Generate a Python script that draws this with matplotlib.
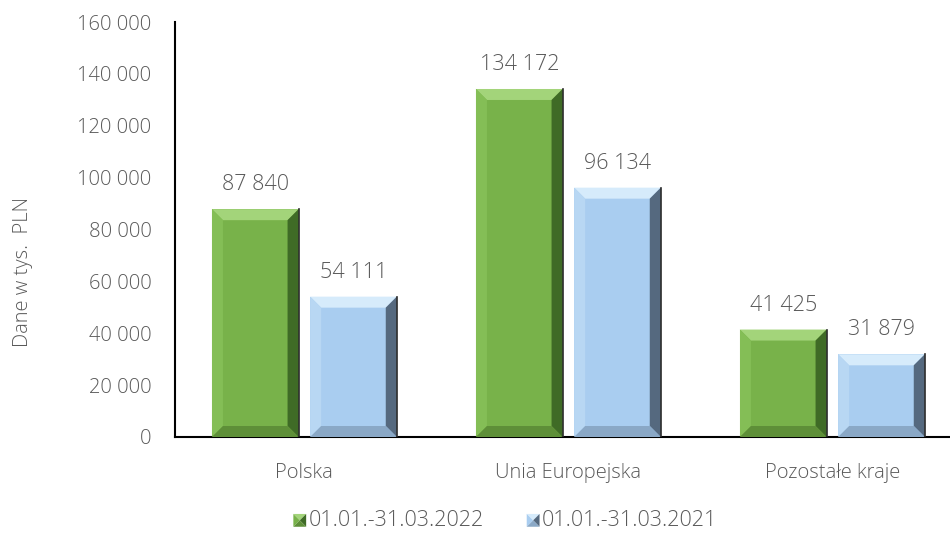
import numpy as np
import matplotlib.pyplot as plt
from matplotlib.patches import Polygon, Rectangle
from matplotlib.legend_handler import HandlerBase

categories = ["Polska", "Unia Europejska", "Pozostałe kraje"]
series_names = ["01.01.-31.03.2022", "01.01.-31.03.2021"]
values_2022 = [87840, 134172, 41425]
values_2021 = [54111, 96134, 31879]

plt.rcParams["font.family"] = ["Open Sans", "DejaVu Sans"]
plt.rcParams["font.weight"] = "light"
TXT = "#595959"

# face, top bevel, left bevel, right bevel, bottom bevel
palettes = [
    ["#78B24A", "#A3D47A", "#84BE56", "#3F6B26", "#5E8F38"],
    ["#A9CDF0", "#D6EBFB", "#B8D7F3", "#55697F", "#8AA8C6"],
]

W, H = 950, 534
fig = plt.figure(figsize=(W / 100, H / 100), dpi=100)
ax_l, ax_b, ax_w, ax_h = 175, 97, 792, 415
ax = fig.add_axes([ax_l / W, ax_b / H, ax_w / W, ax_h / H])
ax.set_xlim(-0.49, 2.51)
ax.set_ylim(0, 160000)

sx = ax_w / 3.0
sy = ax_h / 160000.0
bx, by = 11 / sx, 11 / sy

x = np.arange(len(categories))
width = 0.328
offset = 0.186


def bevel_bar(xc, h, cols):
    x0, x1, y0, y1 = xc - width / 2, xc + width / 2, 0, h
    ax.add_patch(Rectangle((x0, y0), x1 - x0, y1 - y0, color=cols[0], lw=0, zorder=2))
    polys = [
        ([(x0, y1), (x1, y1), (x1 - bx, y1 - by), (x0 + bx, y1 - by)], cols[1]),
        ([(x0, y0), (x0, y1), (x0 + bx, y1 - by), (x0 + bx, y0 + by)], cols[2]),
        ([(x1, y0), (x1, y1), (x1 - bx, y1 - by), (x1 - bx, y0 + by)], cols[3]),
        ([(x0, y0), (x1, y0), (x1 - bx, y0 + by), (x0 + bx, y0 + by)], cols[4]),
    ]
    for pts, c in polys:
        ax.add_patch(Polygon(pts, closed=True, color=c, lw=0, zorder=3))
    ax.plot([x1, x1], [y0, y1], color="#2a2a2a", lw=1.2, zorder=4)


for i, vals in enumerate([values_2022, values_2021]):
    xs = x + (-offset if i == 0 else offset)
    for xc, v in zip(xs, vals):
        bevel_bar(xc, v, palettes[i])
        ax.annotate(f"{v:,}".replace(",", " "), (xc, v), xytext=(0, 10),
                    textcoords="offset points", ha="center", va="bottom",
                    fontsize=15.5, color=TXT)

ax.set_yticks(np.arange(0, 160001, 20000))
ax.set_yticklabels([f"{t:,}".replace(",", " ") for t in range(0, 160001, 20000)])
ax.set_xticks(x)
ax.set_xticklabels(categories)
ax.tick_params(axis="both", length=0, labelsize=14.5, colors=TXT)
ax.tick_params(axis="x", pad=18.5)
ax.tick_params(axis="y", pad=17)
for s in ["top", "right"]:
    ax.spines[s].set_visible(False)
ax.spines["left"].set_color("black")
ax.spines["bottom"].set_color("black")
ax.spines["left"].set_linewidth(1.5)
ax.spines["bottom"].set_linewidth(1.5)
fig.text(23 / W, (H - 272) / H, "Dane w tys.  PLN", rotation=90, va="center",
         ha="center", fontsize=14.5, color=TXT)


class BevelHandler(HandlerBase):
    def __init__(self, cols):
        super().__init__()
        self.cols = cols

    def create_artists(self, legend, orig, xd, yd, w, h, fs, trans):
        s = h * 0.85
        x0, y0 = xd + w - s, yd + (h - s) / 2 - 1
        c = self.cols
        x1, y1 = x0 + s, y0 + s
        xm, ym = (x0 + x1) / 2, (y0 + y1) / 2
        tris = [
            ([(x0, y1), (x1, y1), (xm, ym)], c[1]),
            ([(x0, y0), (x0, y1), (xm, ym)], c[0]),
            ([(x1, y0), (x1, y1), (xm, ym)], c[3]),
            ([(x0, y0), (x1, y0), (xm, ym)], c[4]),
        ]
        return [Polygon(p, closed=True, color=col, lw=0, transform=trans) for p, col in tris]


h1 = Rectangle((0, 0), 1, 1)
h2 = Rectangle((0, 0), 1, 1)
fig.legend([h1, h2], series_names, loc="center", bbox_to_anchor=(503 / W, 13 / H),
           ncol=2, frameon=False, fontsize=15.5, labelcolor=TXT,
           handlelength=0.8, handletextpad=0.1, columnspacing=1.8,
           handler_map={h1: BevelHandler(palettes[0]), h2: BevelHandler(palettes[1])})

fig.savefig("out.png", dpi=100)
